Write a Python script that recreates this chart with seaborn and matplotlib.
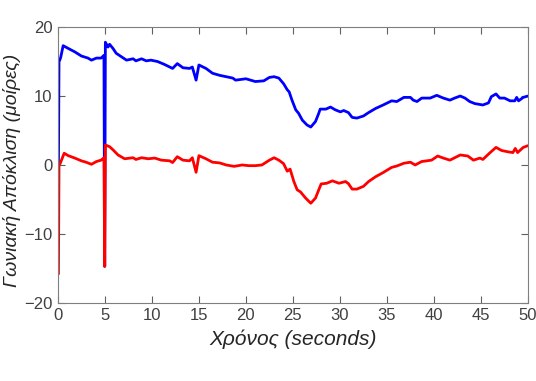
import matplotlib
matplotlib.use("Agg")
import matplotlib.pyplot as plt
import seaborn as sns
import pandas as pd

# --- data ---
time_blue = [0.06, 0.12, 0.2, 0.3, 0.56, 1.1, 1.8, 2.5, 3.2, 3.57, 4.1, 4.6, 4.9, 4.98, 5.05,
             5.33, 5.5, 5.86, 6.2, 6.75, 7.3, 8.0, 8.3, 8.9, 9.4, 9.9, 10.6, 11.3, 11.9, 12.2,
             12.7, 13.3, 14.0, 14.3, 14.7, 15.0, 15.75, 16.45, 17.2, 17.9, 18.6, 18.9, 20.0,
             21.0, 21.9, 22.5, 23.0, 23.5, 24.0, 24.4, 24.6, 24.9, 25.3, 25.6, 26.0, 26.5, 26.9,
             27.4, 27.75, 27.9, 28.5, 29.0, 29.5, 30.05, 30.4, 30.9, 31.3, 31.8, 32.5, 33.05,
             33.8, 34.6, 35.5, 36.05, 36.8, 37.5, 37.8, 38.2, 38.7, 39.6, 40.3, 41.0, 41.7, 42.2,
             42.8, 43.3, 43.8, 44.35, 45.2, 45.8, 46.1, 46.6, 47.0, 47.5, 48.1, 48.6, 48.8, 49.0,
             49.5, 50.0]
angle_blue = [0.0, 15.0, 15.2, 15.6, 17.3, 16.9, 16.4, 15.8, 15.5, 15.2, 15.5, 15.5, 15.9, -14.7, 17.8,
              17.1, 17.5, 16.9, 16.2, 15.7, 15.2, 15.4, 15.1, 15.4, 15.1, 15.2, 15.0, 14.6, 14.2, 14.0,
              14.7, 14.1, 14.0, 14.2, 12.3, 14.5, 14.0, 13.3, 13.0, 12.8, 12.6, 12.3, 12.5,
              12.1, 12.2, 12.7, 12.8, 12.6, 11.8, 10.9, 10.6, 9.4, 8.0, 7.5, 6.5, 5.8, 5.5,
              6.3, 7.5, 8.1, 8.1, 8.4, 8.0, 7.7, 7.9, 7.6, 6.9, 6.8, 7.1, 7.6,
              8.2, 8.7, 9.3, 9.2, 9.8, 9.8, 9.4, 9.2, 9.7, 9.7, 10.1, 9.7, 9.4, 9.7,
              10.0, 9.7, 9.2, 8.9, 8.7, 9.0, 9.9, 10.3, 9.7, 9.7, 9.3, 9.3, 9.8, 9.3,
              9.8, 10.0]

time_red = [0.06, 0.12, 0.24, 0.67, 1.1, 1.8, 2.5, 3.0, 3.57, 4.1, 4.6, 4.9, 4.98, 5.05, 5.5,
            5.86, 6.4, 7.1, 8.0, 8.3, 8.9, 9.6, 10.3, 11.0, 11.9, 12.2, 12.7, 13.3, 14.0, 14.3,
            14.7, 15.0, 15.75, 16.45, 17.2, 17.9, 18.75, 19.6, 20.3, 21.0, 21.7, 22.5, 23.0,
            23.5, 24.0, 24.4, 24.7, 25.1, 25.45, 25.8, 26.35, 26.9, 27.4, 27.75, 28.0, 28.6,
            29.2, 29.9, 30.6, 30.9, 31.3, 31.8, 32.5, 33.05, 33.8, 34.6, 35.5, 36.05, 36.8,
            37.5, 38.0, 38.7, 39.75, 40.4, 41.0, 41.7, 42.8, 43.6, 44.2, 44.9, 45.2, 45.9, 46.6,
            47.2, 47.9, 48.4, 48.65, 48.9, 49.5, 50.0]
angle_red = [-15.8, 0.0, 0.2, 1.7, 1.35, 1.0, 0.6, 0.4, 0.1, 0.5, 0.7, 1.05, -14.7, 2.9, 2.65,
             2.2, 1.45, 0.9, 1.05, 0.8, 1.05, 0.9, 1.0, 0.7, 0.6, 0.35, 1.2, 0.7, 0.6, 1.05,
             -1.06, 1.35, 0.9, 0.4, 0.3, 0.0, -0.2, 0.0, -0.1, -0.1, 0.0, 0.7, 1.05,
             0.7, 0.2, -0.9, -0.6, -2.4, -3.6, -3.9, -4.8, -5.55, -4.8, -3.6, -2.75, -2.65,
             -2.3, -2.65, -2.4, -2.7, -3.5, -3.5, -3.1, -2.4, -1.7, -1.1, -0.35, -0.15, 0.25,
             0.4, 0.0, 0.5, 0.7, 1.3, 1.0, 0.7, 1.45, 1.3, 0.7, 1.0, 0.8, 1.7, 2.55,
             2.1, 1.9, 1.8, 2.4, 1.8, 2.55, 2.8]

x_ticks = [0, 5, 10, 15, 20, 25, 30, 35, 40, 45, 50]
y_ticks = [-20, -10, 0, 10, 20]
x_label = "Χρόνος (seconds)"
y_label = "Γωνιακή Απόκλιση (μοίρες)"

sns.set_theme(style="white")
plt.rcParams['font.family'] = ['Liberation Sans Narrow', 'Liberation Sans', 'DejaVu Sans']
plt.rcParams['xtick.direction'] = 'in'
plt.rcParams['ytick.direction'] = 'in'

fig = plt.figure(figsize=(5.36, 3.81), dpi=100)
ax = fig.add_axes([0.108, 0.205, 0.877, 0.724])

df_b = pd.DataFrame({"t": time_blue, "v": angle_blue})
df_r = pd.DataFrame({"t": time_red, "v": angle_red})
sns.lineplot(data=df_b, x="t", y="v", ax=ax, color="#0000ff", linewidth=2.0,
             sort=False, estimator=None)
sns.lineplot(data=df_r, x="t", y="v", ax=ax, color="#ff0000", linewidth=2.0,
             sort=False, estimator=None)

ax.set_xlim(0, 50)
ax.set_ylim(-20, 20)
ax.set_xticks(x_ticks)
ax.set_yticks(y_ticks)
ax.tick_params(axis='both', which='both', direction='in', length=5, width=0.8,
               colors='#606060', labelcolor='#404040', labelsize=12,
               top=True, right=True, bottom=True, left=True, pad=4)
for s in ax.spines.values():
    s.set_color('#7f7f7f')
    s.set_linewidth(0.8)

ax.set_xlabel(x_label, fontsize=15, style='italic', color='#262626', labelpad=4)
ax.set_ylabel(y_label, fontsize=14, style='italic', color='#262626')
ax.yaxis.label.set_va('center')
ax.yaxis.set_label_coords(-0.098, 0.482)

fig.savefig("out.png", dpi=100)
